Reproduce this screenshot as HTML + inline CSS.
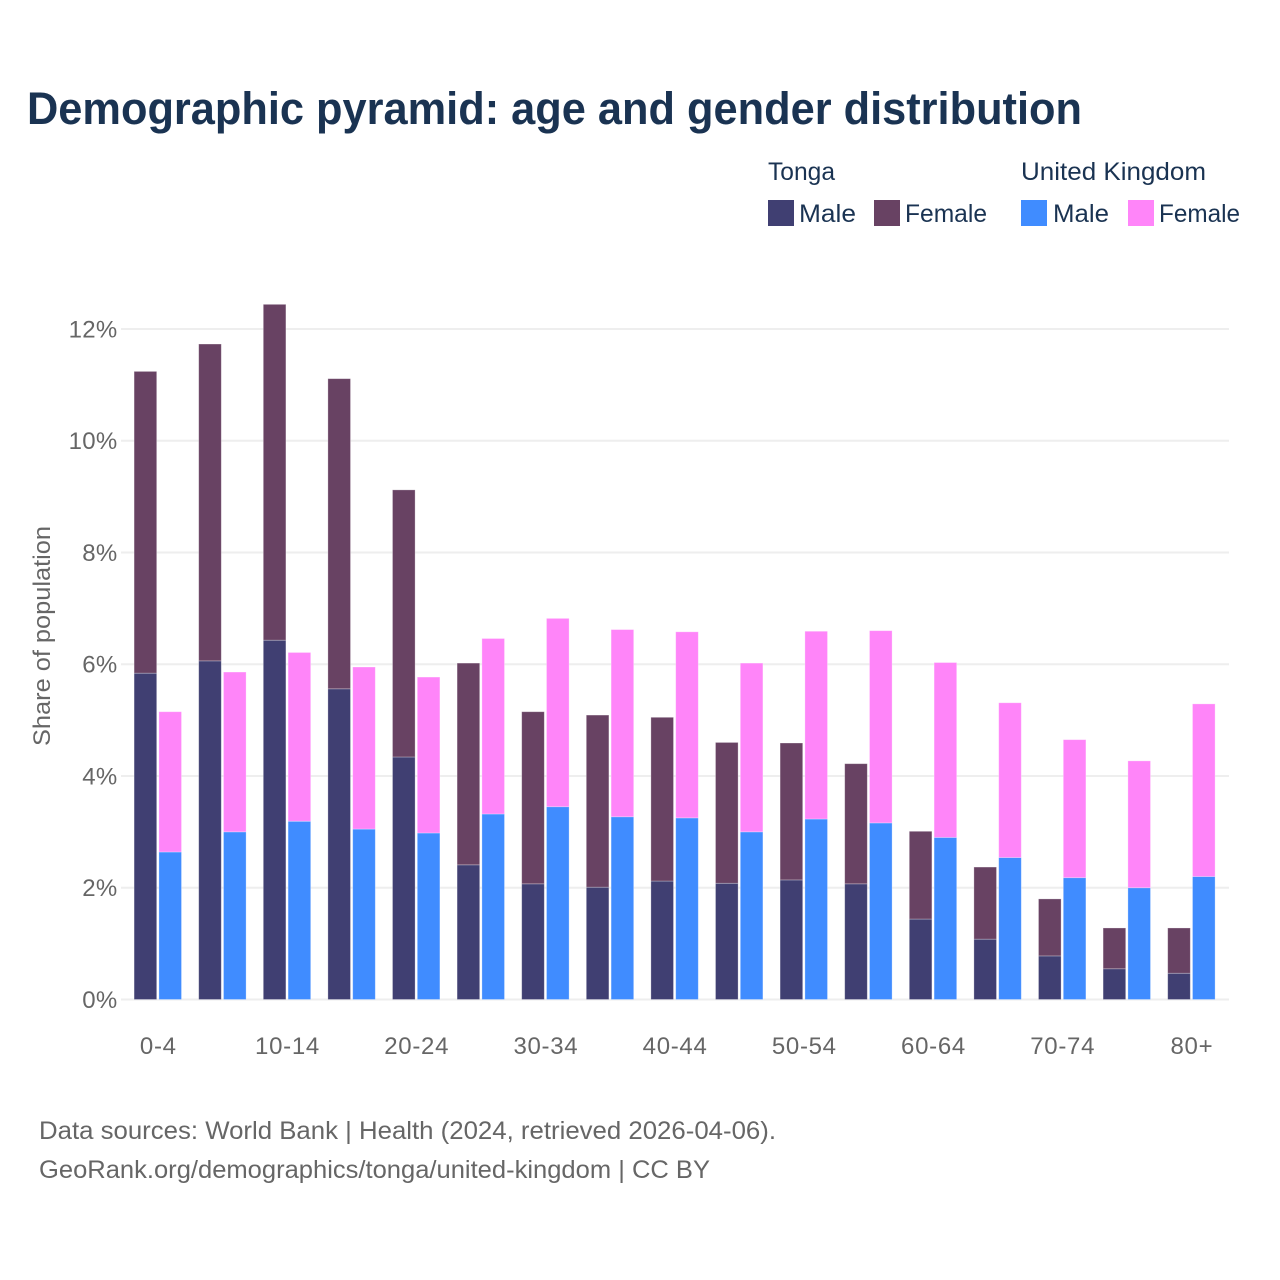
<!DOCTYPE html>
<html lang="en">
<head>
<meta charset="utf-8">
<title>Demographic pyramid: age and gender distribution</title>
<style>
  html, body { margin: 0; padding: 0; background: #fff; }
  svg { display: block; }
  text { font-family: "Liberation Sans", sans-serif; }
  .tick { font-size: 24px; fill: #666666; letter-spacing: 0.3px; }
  .xtick { font-size: 24px; fill: #666666; letter-spacing: 0.7px; }
  .legend { font-size: 25px; fill: #1a3352; }
  .foot { font-size: 25px; fill: #666666; }
</style>
</head>
<body>
<svg id="chart" xmlns="http://www.w3.org/2000/svg" width="1280" height="1280" viewBox="0 0 1280 1280">
  <rect x="0" y="0" width="1280" height="1280" fill="#ffffff"/>
  <text x="27" y="124" font-size="45" font-weight="700" fill="#1a3352" textLength="1055" lengthAdjust="spacingAndGlyphs">Demographic pyramid: age and gender distribution</text>

  <g>
    <text class="legend" x="768" y="180" textLength="67" lengthAdjust="spacingAndGlyphs">Tonga</text>
    <text class="legend" x="1021" y="180" textLength="185" lengthAdjust="spacingAndGlyphs">United Kingdom</text>
    <rect x="768" y="200" width="26" height="26" fill="#403f72"/>
    <text class="legend" x="799" y="222" textLength="57" lengthAdjust="spacingAndGlyphs">Male</text>
    <rect x="874" y="200" width="26" height="26" fill="#684263"/>
    <text class="legend" x="905" y="222" textLength="82" lengthAdjust="spacingAndGlyphs">Female</text>
    <rect x="1021" y="200" width="26" height="26" fill="#408cff"/>
    <text class="legend" x="1053" y="222" textLength="56" lengthAdjust="spacingAndGlyphs">Male</text>
    <rect x="1128" y="200" width="26" height="26" fill="#ff85f9"/>
    <text class="legend" x="1159" y="222" textLength="81" lengthAdjust="spacingAndGlyphs">Female</text>
  </g>

  <g id="grid"></g>
  <g id="bars"></g>
  <g id="yticks"></g>
  <g id="xticks"></g>

  <text transform="translate(50,746) rotate(-90)" x="0" y="0" font-size="24" fill="#666666" textLength="220" lengthAdjust="spacingAndGlyphs">Share of population</text>

  <text class="foot" x="39" y="1139" textLength="737" lengthAdjust="spacingAndGlyphs">Data sources: World Bank | Health (2024, retrieved 2026-04-06).</text>
  <text class="foot" x="39" y="1178" textLength="671" lengthAdjust="spacingAndGlyphs">GeoRank.org/demographics/tonga/united-kingdom | CC BY</text>
</svg>

<script>
const categories = ["0-4","5-9","10-14","15-19","20-24","25-29","30-34","35-39","40-44","45-49","50-54","55-59","60-64","65-69","70-74","75-79","80+"];
const tongaMale = [5.84,6.06,6.43,5.56,4.34,2.41,2.07,2.01,2.12,2.08,2.14,2.07,1.44,1.08,0.78,0.55,0.47];
const tongaFemale = [5.40,5.67,6.01,5.55,4.78,3.61,3.08,3.08,2.93,2.52,2.45,2.15,1.57,1.29,1.02,0.73,0.81];
const ukMale = [2.64,3.00,3.19,3.05,2.98,3.32,3.45,3.27,3.25,3.00,3.23,3.16,2.90,2.54,2.18,2.00,2.20];
const ukFemale = [2.51,2.86,3.02,2.90,2.79,3.14,3.37,3.35,3.33,3.02,3.36,3.44,3.13,2.77,2.47,2.27,3.09];
const yTicks = [0,2,4,6,8,10,12];
const yTickLabels = ["0%","2%","4%","6%","8%","10%","12%"];

const NS = "http://www.w3.org/2000/svg";
const plotLeft = 121, plotRight = 1229;
const yZero = 999.5, pxPerUnit = 55.88;
const firstCenter = 157.8, bandStep = 64.6;
const barWidth = 22.6, barGap = 2.2;

function yScale(v) { return yZero - v * pxPerUnit; }
function xScale(i) { return firstCenter + i * bandStep; }

const grid = document.getElementById("grid");
const yticksG = document.getElementById("yticks");
yTicks.forEach(function (t, i) {
  const line = document.createElementNS(NS, "line");
  
  
  line.setAttribute("x1", plotLeft);
  line.setAttribute("x2", plotRight);
  line.setAttribute("y1", yScale(t));
  line.setAttribute("y2", yScale(t));
  line.setAttribute("stroke", "#eeeeee");
  line.setAttribute("stroke-width", "2");
  grid.appendChild(line);

  const label = document.createElementNS(NS, "text");
  
  
  label.setAttribute("class", "tick");
  label.setAttribute("x", 117.5);
  label.setAttribute("y", yScale(t) + 8.5);
  label.setAttribute("text-anchor", "end");
  label.textContent = yTickLabels[i];
  yticksG.appendChild(label);
});

function addBar(x, base, value, color) {
  const rect = document.createElementNS(NS, "rect");
  
  
  rect.setAttribute("x", x);
  rect.setAttribute("y", yScale(base + value));
  rect.setAttribute("width", barWidth);
  rect.setAttribute("height", value * pxPerUnit);
  rect.setAttribute("fill", color);
  rect.setAttribute("stroke", "#ffffff");
  rect.setAttribute("stroke-opacity", "0.35");
  rect.setAttribute("stroke-width", "0.8");
  document.getElementById("bars").appendChild(rect);
}

const xticksG = document.getElementById("xticks");
categories.forEach(function (cat, i) {
  const c = xScale(i);
  const leftX = c - barGap / 2 - barWidth;
  const rightX = c + barGap / 2;
  addBar(leftX, 0, tongaMale[i], "#403f72");
  addBar(leftX, tongaMale[i], tongaFemale[i], "#684263");
  addBar(rightX, 0, ukMale[i], "#408cff");
  addBar(rightX, ukMale[i], ukFemale[i], "#ff85f9");

  if (i % 2 === 0) {
    const label = document.createElementNS(NS, "text");
    
    
    label.setAttribute("class", "xtick");
    label.setAttribute("x", c + 0.5);
    label.setAttribute("y", 1054);
    label.setAttribute("text-anchor", "middle");
    label.textContent = cat;
    xticksG.appendChild(label);
  }
});
</script>
</body>
</html>
